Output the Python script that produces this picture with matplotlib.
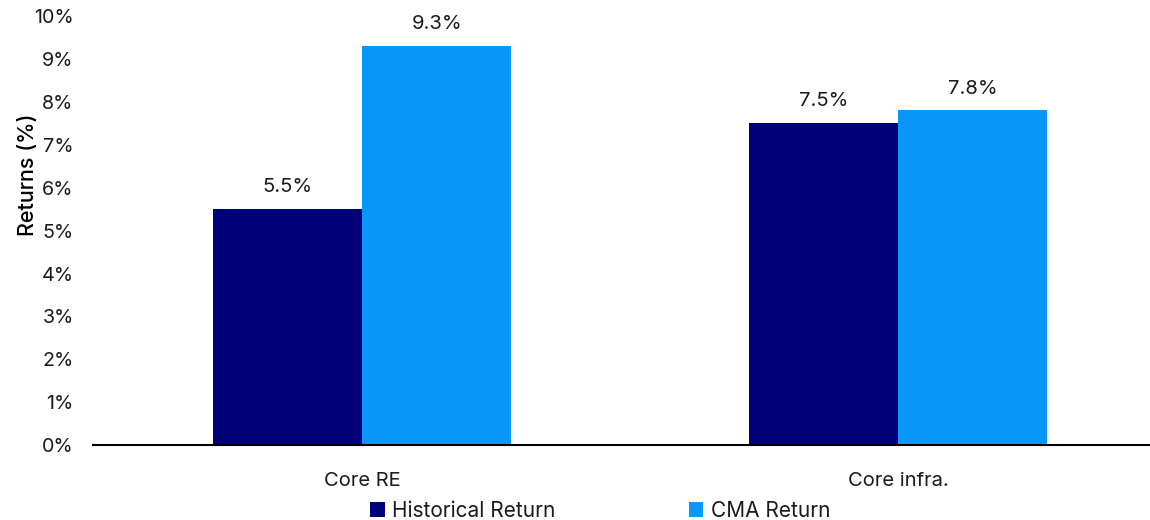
import matplotlib
matplotlib.use("Agg")
import matplotlib.pyplot as plt
import numpy as np

categories = ["Core RE", "Core infra."]
series_names = ["Historical Return", "CMA Return"]
historical = [5.5, 7.5]
cma = [9.3, 7.8]
yticks = [0, 1, 2, 3, 4, 5, 6, 7, 8, 9, 10]

colors = ["#000078", "#0897F9"]

plt.rcParams['font.family'] = ['Inter', 'DejaVu Sans']

fig = plt.figure(figsize=(11.5, 5.2), dpi=100)
ax = fig.add_axes([0.081, 0.144, 0.919, 0.825])

x = np.arange(len(categories))
w = 0.278
b1 = ax.bar(x - w/2, historical, w, color=colors[0], label=series_names[0])
b2 = ax.bar(x + w/2, cma, w, color=colors[1], label=series_names[1])

for bars, vals in ((b1, historical), (b2, cma)):
    for rect, v in zip(bars, vals):
        ax.text(rect.get_x() + rect.get_width()/2, v + 0.3, f"{v:.1f}%",
                ha="center", va="bottom", fontsize=14.5, color="#1a1a1a")

ax.set_xlim(-0.502, 1.47)
ax.set_ylim(0, 10)
ax.set_yticks(yticks)
ax.set_yticklabels([f"{t}%" for t in yticks], fontsize=14.2, color="#1a1a1a")
ax.set_xticks(x)
ax.set_xticklabels(categories, fontsize=14.5, color="#1a1a1a")
ax.tick_params(axis="both", length=0)
ax.tick_params(axis="y", pad=14)
ax.tick_params(axis="x", pad=19)
for s in ["top", "right", "left"]:
    ax.spines[s].set_visible(False)
ax.spines["bottom"].set_color("black")
ax.spines["bottom"].set_linewidth(1.5)
ax.set_ylabel("Returns (%)", fontsize=15.5, fontweight="medium", color="black")
ax.yaxis.set_label_coords(-0.052, 0.63)

leg = fig.legend(handles=[b1, b2], labels=series_names, loc="center",
                 bbox_to_anchor=(0.522, 0.018), ncol=2, frameon=False,
                 fontsize=15, handlelength=0.7, handleheight=0.7,
                 handletextpad=0.35, columnspacing=6.4, borderaxespad=0)
for t in leg.get_texts():
    t.set_color("#1a1a1a")

fig.savefig("out.png", dpi=100)
